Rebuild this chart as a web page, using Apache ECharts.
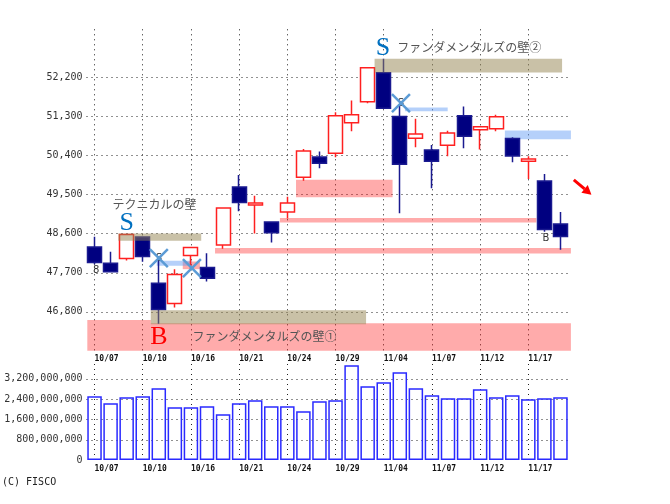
<!DOCTYPE html>
<html>
<head>
<meta charset="utf-8">
<script src="https://cdn.jsdelivr.net/npm/echarts@6/dist/echarts.min.js"></script>
<style>
  html, body { margin: 0; padding: 0; background: #fff; }
  #main { width: 670px; height: 504px; }
</style>
</head>
<body>
<div id="main"></div>
<script>
var dates = ["10/07","10/08","10/09","10/10","10/14","10/15","10/16","10/17","10/20","10/21",
  "10/22","10/23","10/24","10/27","10/28","10/29","10/30","10/31","11/04","11/05",
  "11/06","11/07","11/10","11/11","11/12","11/13","11/14","11/17","11/18","11/19"];
var opens = [48285,47916,48023,48515,47454,46985,48092,47815,48331,49669,
  49254,48862,49092,49892,50362,50446,51146,51631,52300,51292,
  50792,50523,50631,51308,50985,51008,50785,50262,49808,48815];
var closes = [47931,47716,48577,48069,46846,47654,48277,47569,49185,49315,
  49300,48615,49300,50500,50215,51308,51331,52415,51485,50192,
  50892,50262,50915,50838,51054,51285,50385,50315,48692,48531];
var lows = [47892,47700,47977,47946,46523,46892,47777,47492,48246,49108,
  48600,48392,48946,49815,50100,50354,50954,51600,51469,49062,
  50585,49638,50377,50562,50531,50954,50238,49854,48638,48223];
var highs = [48523,48177,48577,48515,48031,47777,48277,48146,49185,49946,
  49469,48870,49446,50546,50485,51392,51662,52415,52623,51546,
  51238,50638,50962,51523,51069,51331,50815,50377,49969,49092];
var volumes = [2505e6,2230e6,2466e6,2505e6,2820e6,2072e6,2072e6,2111e6,1797e6,2230e6,
  2348e6,2111e6,2111e6,1915e6,2308e6,2348e6,3725e6,2898e6,3056e6,3449e6,
  2820e6,2544e6,2426e6,2426e6,2780e6,2466e6,2544e6,2387e6,2426e6,2466e6];
var priceTicks = [46800,47700,48600,49500,50400,51300,52200];
var volumeTicks = [0,800000000,1600000000,2400000000,3200000000];

// zones: from slot, to slot, upper price, lower price (one slot = one trading day)
var pinkZones = [[0.05,4.0,46608,45900],[4.0,30.15,46531,45900],[13.04,19.05,49838,49431],
  [12.04,28.0,48954,48854],[8.0,30.15,48262,48138],[5.99,7.06,47954,47777]];
var blueZones = [[4.37,6.55,47969,47854],[19.82,22.48,51500,51415],[26.04,30.15,50969,50769]];
var tanZones = [[4.0,17.4,46831,46508],[1.98,7.14,48600,48431],[17.93,29.6,52623,52308]];
var crossSlots = [4.5,6.56,19.57];
var crossPrices = [48031,47800,51600];
var noteTexts = ["S","S","B","テクニカルの壁","ファンダメンタルズの壁②","ファンダメンタルズの壁①","8","B","S","S"];
var noteSlots = [2.5,18.45,4.51,4.23,23.83,11.08,0.61,28.6,4.5,19.57];
var notePrices = [48838,52854,46216,49262,52892,46238,47739,48492,48031,51600];
var noteKinds = ["sell","sell","buy","wall","wall","wall","small","small","small","small"];
var arrowSlots = [30.33,31.43];
var arrowPrices = [49831,49492];

var noteFonts = {
  sell: { fill: "#0070c0", font: "26px 'Liberation Serif'" },
  buy: { fill: "#ff0000", font: "26px 'Liberation Serif'" },
  wall: { fill: "#555555", font: "12px 'Noto Sans CJK JP'" },
  small: { fill: "#333333", font: "10px 'DejaVu Sans'" }
};
var mono = "'DejaVu Sans Mono'";
var dotted = { color: "#222", width: 1, type: [1, 4] };

function zoneSeries(rows, color, z) {
  return {
    type: "custom",
    xAxisIndex: 2,
    yAxisIndex: 0,
    z: z,
    silent: true,
    encode: { x: [0, 1], y: [2, 3] },
    data: rows,
    renderItem: function (params, api) {
      var a = api.coord([api.value(0), api.value(2)]);
      var b = api.coord([api.value(1), api.value(3)]);
      return {
        type: "rect",
        shape: { x: a[0], y: a[1], width: b[0] - a[0], height: b[1] - a[1] },
        style: { fill: color }
      };
    }
  };
}

// horizontal dots at the labelled ticks only, drawn on the hidden slot axis of each panel
function tickSeries(ticks, xIndex, yIndex) {
  return {
    type: "custom",
    xAxisIndex: xIndex,
    yAxisIndex: yIndex,
    z: 1,
    silent: true,
    encode: { y: 0 },
    data: ticks.filter(function (v) { return v > 0; }).map(function (v) { return [v]; }),
    renderItem: function (params, api) {
      var a = api.coord([0, api.value(0)]);
      var b = api.coord([30, api.value(0)]);
      var y = Math.round(a[1]) + 0.5;
      return {
        type: "line",
        shape: { x1: a[0], y1: y, x2: b[0], y2: y },
        style: { stroke: "#222", lineWidth: 1, lineDash: [1, 4] }
      };
    }
  };
}

var candleData = dates.map(function (d, i) {
  return [opens[i], closes[i], lows[i], highs[i]];
});

var myChart = echarts.init(document.getElementById("main"), null, { renderer: "canvas" });
myChart.setOption({
  animation: false,
  backgroundColor: "#fff",
  title: {
    text: "(C) FISCO",
    left: 2,
    top: 477,
    padding: 0,
    textStyle: { fontFamily: mono, fontSize: 10, fontWeight: "normal", color: "#222" }
  },
  grid: [
    { left: 86.5, width: 482, top: 29.3, height: 321.4 },
    { left: 86.5, width: 482, top: 364, height: 96 }
  ],
  xAxis: [
    {
      type: "category",
      data: dates,
      gridIndex: 0,
      axisLine: { show: false },
      axisTick: { show: false },
      axisLabel: { interval: 2, align: "left", margin: 4, fontFamily: mono, fontSize: 8, fontWeight: "bold", color: "#111" },
      splitLine: { show: true, interval: 2, alignWithLabel: true, lineStyle: dotted }
    },
    {
      type: "category",
      data: dates,
      gridIndex: 1,
      axisLine: { show: false },
      axisTick: { show: false },
      axisLabel: { interval: 2, align: "left", margin: 5, fontFamily: mono, fontSize: 8, fontWeight: "bold", color: "#111" },
      splitLine: { show: true, interval: 2, alignWithLabel: true, lineStyle: dotted }
    },
    { type: "value", gridIndex: 0, min: 0, max: 30, show: false },
    { type: "value", gridIndex: 1, min: 0, max: 30, show: false }
  ],
  yAxis: [
    {
      type: "value",
      gridIndex: 0,
      min: 45900,
      max: 53300,
      interval: 900,
      axisLine: { show: false },
      axisTick: { show: false },
      axisLabel: {
        customValues: priceTicks,
        margin: 4,
        fontFamily: mono,
        fontSize: 10,
        color: "#333",
        formatter: function (v) { return v.toLocaleString("en-US"); }
      },
      splitLine: { show: false }
    },
    {
      type: "value",
      gridIndex: 1,
      min: 0,
      max: 3778000000,
      interval: 800000000,
      axisLine: { show: false },
      axisTick: { show: false },
      axisLabel: {
        customValues: volumeTicks,
        margin: 4,
        fontFamily: mono,
        fontSize: 10,
        color: "#333",
        formatter: function (v) { return v.toLocaleString("en-US"); }
      },
      splitLine: { show: false }
    }
  ],
  series: [
    tickSeries(priceTicks, 2, 0),
    tickSeries(volumeTicks, 3, 1),
    zoneSeries(pinkZones, "rgba(255,0,0,0.33)", 1),
    zoneSeries(blueZones, "rgba(90,150,245,0.45)", 1),
    {
      type: "candlestick",
      xAxisIndex: 0,
      yAxisIndex: 0,
      z: 2,
      barWidth: 14.5,
      data: candleData,
      itemStyle: {
        color: "#fff",
        borderColor: "#ff2020",
        color0: "#000080",
        borderColor0: "#1a1a90",
        borderWidth: 1.5
      }
    },
    zoneSeries(tanZones, "rgba(148,132,80,0.5)", 3),
    {
      type: "bar",
      xAxisIndex: 1,
      yAxisIndex: 1,
      barWidth: 14.5,
      data: volumes,
      itemStyle: { color: "transparent", borderColor: "#2a2aff", borderWidth: 1.5 }
    },
    {
      // small letters under the crosses come first in z, so the crosses stay on top
      type: "custom",
      xAxisIndex: 2,
      yAxisIndex: 0,
      z: 4,
      silent: true,
      data: noteSlots.map(function (s, i) { return [s, notePrices[i]]; }),
      renderItem: function (params, api) {
        var p = api.coord([api.value(0), api.value(1)]);
        var f = noteFonts[noteKinds[params.dataIndex]];
        return {
          type: "text",
          style: {
            x: p[0], y: p[1],
            text: noteTexts[params.dataIndex],
            fill: f.fill, font: f.font,
            textAlign: "center", textVerticalAlign: "middle"
          }
        };
      }
    },
    {
      type: "custom",
      xAxisIndex: 2,
      yAxisIndex: 0,
      z: 5,
      silent: true,
      data: crossSlots.map(function (s, i) { return [s, crossPrices[i]]; }),
      renderItem: function (params, api) {
        var p = api.coord([api.value(0), api.value(1)]);
        var r = 9;
        var line = { stroke: "#5b9bd5", lineWidth: 2.5 };
        return {
          type: "group",
          children: [
            { type: "line", shape: { x1: p[0] - r, y1: p[1] - r, x2: p[0] + r, y2: p[1] + r }, style: line },
            { type: "line", shape: { x1: p[0] - r, y1: p[1] + r, x2: p[0] + r, y2: p[1] - r }, style: line }
          ]
        };
      }
    },
    {
      // red arrow right of the plot
      type: "custom",
      xAxisIndex: 2,
      yAxisIndex: 0,
      z: 5,
      silent: true,
      data: [[arrowSlots[0], arrowPrices[0], arrowSlots[1], arrowPrices[1]]],
      renderItem: function (params, api) {
        var a = api.coord([api.value(0), api.value(1)]);
        var b = api.coord([api.value(2), api.value(3)]);
        var ang = Math.atan2(b[1] - a[1], b[0] - a[0]);
        var h = 9, w = 5;
        var bx = b[0] - h * Math.cos(ang), by = b[1] - h * Math.sin(ang);
        return {
          type: "group",
          children: [
            { type: "line", shape: { x1: a[0], y1: a[1], x2: bx, y2: by }, style: { stroke: "#ff0000", lineWidth: 3 } },
            {
              type: "polygon",
              shape: { points: [
                [b[0], b[1]],
                [bx - w * Math.sin(ang), by + w * Math.cos(ang)],
                [bx + w * Math.sin(ang), by - w * Math.cos(ang)]
              ] },
              style: { fill: "#ff0000" }
            }
          ]
        };
      }
    }
  ]
});
</script>
</body>
</html>
